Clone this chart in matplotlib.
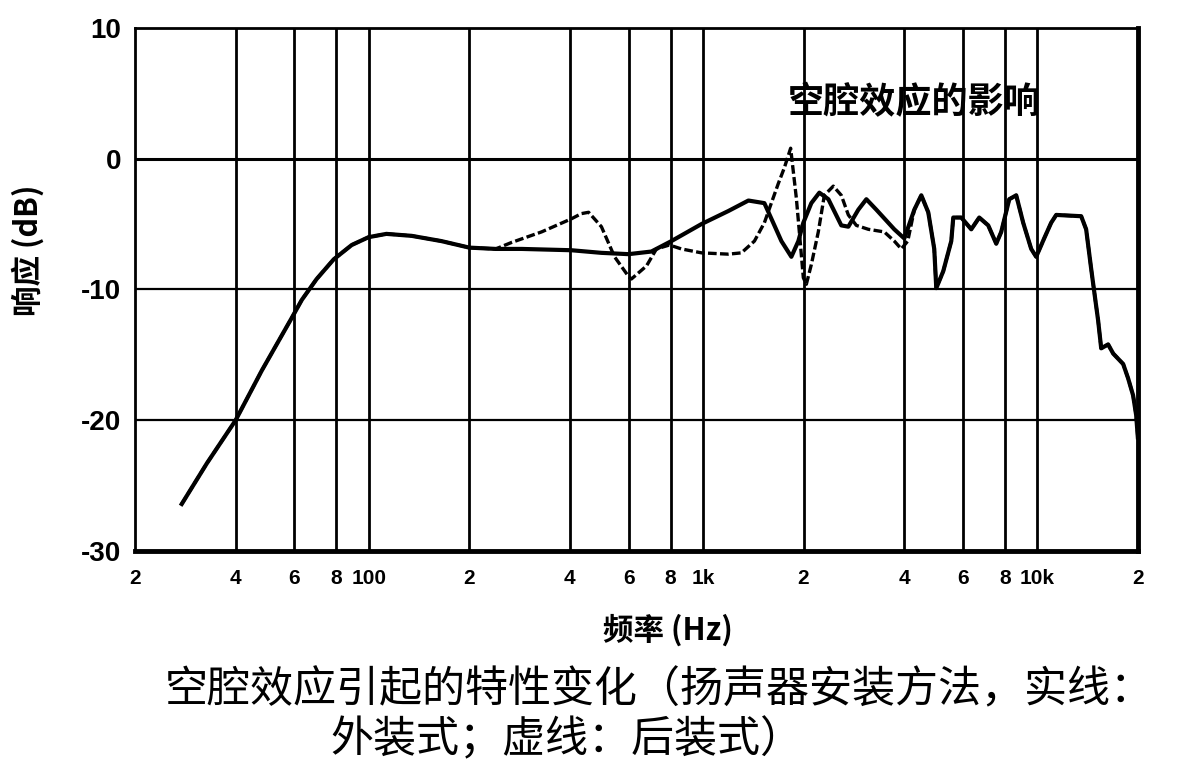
import matplotlib
matplotlib.use("Agg")
import matplotlib.pyplot as plt
from matplotlib.ticker import NullLocator

plt.rcParams['font.family'] = ['Noto Sans CJK SC', 'DejaVu Sans']

# below ~250 Hz both mounting methods give the same curve
freq_low = [27.6, 32.8, 40, 47.9, 58.8, 63.1, 69.9, 78.6, 89.0, 100, 113, 134.5, 165, 200, 240]
db_low = [-26.4, -23.3, -20.0, -16.2, -12.2, -10.8, -9.2, -7.7, -6.6, -6.0, -5.75, -5.9, -6.3, -6.8, -6.9]

# 实线: 外装式
freq_solid = [287, 404, 497, 599, 701, 805, 990, 1192, 1368, 1527,
              1636, 1717, 1839, 1930, 1997, 2110, 2230, 2373, 2594, 2723,
              2917, 3083, 3302, 3737, 4004, 4290, 4501, 4722, 4921, 4990,
              5236, 5533, 5610, 5928, 6350, 6708, 7137, 7542, 7806, 8250,
              8654, 9081, 9596, 9931, 10490, 11010, 11400, 13540, 14010, 14500,
              14800, 15220, 15540, 16300, 16880, 18080, 18710, 19360, 19770, 20000]
db_solid = [-6.9, -7.0, -7.2, -7.3, -7.1, -6.3, -5.0, -4.0, -3.2, -3.4,
            -5.1, -6.3, -7.5, -6.3, -4.9, -3.4, -2.6, -3.1, -5.1, -5.2,
            -3.9, -3.1, -3.9, -5.4, -6.1, -3.9, -2.8, -4.1, -6.9, -9.9,
            -8.6, -6.3, -4.5, -4.5, -5.4, -4.5, -5.1, -6.5, -5.6, -3.1,
            -2.8, -4.9, -6.9, -7.5, -6.1, -4.9, -4.3, -4.4, -5.4, -8.4,
            -10.1, -12.4, -14.5, -14.2, -14.9, -15.7, -16.8, -18.1, -19.6, -21.3]

# 虚线: 后装式 (cavity resonances), joins the solid curve again above ~4 kHz
freq_dashed = [268, 329, 404, 433, 455, 497, 544, 599, 611, 678,
               726, 794, 862, 990, 1192, 1304, 1426, 1527, 1602, 1681,
               1752, 1830, 1903, 1943, 1997, 2039, 2110, 2214, 2308, 2455,
               2594, 2723, 2877, 3125, 3488, 3737, 3922, 4100]
db_dashed = [-6.4, -5.6, -4.6, -4.2, -4.1, -5.2, -7.5, -9.0, -9.2, -8.2,
             -6.9, -6.6, -6.9, -7.2, -7.3, -7.2, -6.3, -4.9, -3.4, -1.9,
             -0.7, 0.8, -3.0, -5.6, -9.1, -9.6, -8.1, -5.6, -2.8, -2.1,
             -2.8, -4.3, -5.1, -5.4, -5.6, -6.3, -6.9, -6.3]

grid_freqs = [20, 40, 60, 80, 100, 200, 400, 600, 800, 1000, 2000, 4000, 6000, 8000, 10000, 20000]
grid_labels = ["2", "4", "6", "8", "100", "2", "4", "6", "8", "1k", "2", "4", "6", "8", "10k", "2"]
y_ticks = [10, 0, -10, -20, -30]
y_labels = ["10", "0", "-10", "-20", "-30"]

fig = plt.figure(figsize=(11.84, 7.74), dpi=100)
ax = fig.add_axes([0.114, 0.288, 0.847, 0.676])

x_s = freq_low + freq_solid
y_s = db_low + db_solid
x_d = freq_low + freq_dashed + [f for f in freq_solid if f > 4200]
y_d = db_low + db_dashed + [d for f, d in zip(freq_solid, db_solid) if f > 4200]

for f in grid_freqs[1:-1]:
    ax.axvline(f, color='black', lw=2.0, zorder=1)
for v, w in [(0, 2.2), (-10, 1.6), (-20, 1.6)]:
    ax.axhline(v, color='black', lw=w, zorder=1)

ax.plot(x_d, y_d, color='black', lw=2.4, dashes=(2.6, 1.0), zorder=3)
ax.plot(x_s, y_s, color='black', lw=3.0, zorder=4)

ax.set_xscale('log')
ax.set_xlim(20, 20000)
ax.set_ylim(-30, 10)
ax.xaxis.set_minor_locator(NullLocator())
ax.set_xticks(grid_freqs)
ax.set_xticklabels(grid_labels, fontsize=15, fontweight='bold', family='Liberation Sans')
ax.set_yticks(y_ticks)
ax.set_yticklabels(y_labels, fontsize=20, fontweight='bold', family='Liberation Sans')
ax.tick_params(axis='x', length=0, pad=13)
ax.tick_params(axis='y', length=0, pad=10)

for side, w in [('top', 2.0), ('left', 2.0), ('right', 3.5), ('bottom', 3.5)]:
    ax.spines[side].set_linewidth(w)
    ax.spines[side].set_color('black')

ax.text(4300, 4.3, "空腔效应的影响", fontsize=26, fontweight='bold', ha='center', va='center')

fig.text(28 / 1184, 1 - 250 / 774, "响应 (dB)", rotation=90, ha='center', va='center',
         fontsize=22, fontweight='bold')
fig.text(668 / 1184, 1 - 630 / 774, "频率 (Hz)", ha='center', va='center',
         fontsize=22, fontweight='bold')

fig.text(165 / 1184, 1 - 690 / 774, "空腔效应引起的特性变化（扬声器安装方法，实线：",
         ha='left', va='center', fontsize=31)
fig.text(330 / 1184, 1 - 740 / 774, "外装式；虚线：后装式）",
         ha='left', va='center', fontsize=31)

fig.savefig("out.png", dpi=100)
